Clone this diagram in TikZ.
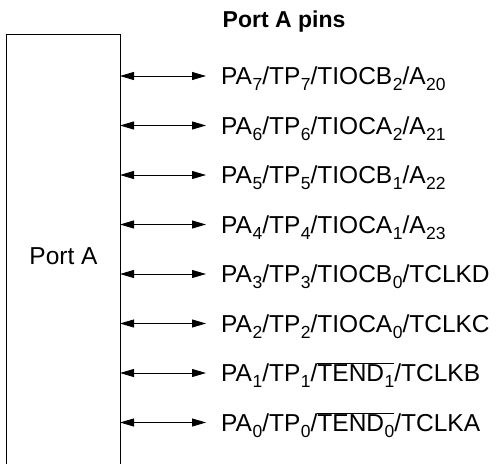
\documentclass[tikz,border=0pt]{standalone}
\usepackage{fontspec}
\setmainfont{Liberation Sans}
\usetikzlibrary{arrows.meta}
\newcommand{\subs}[1]{\kern0.5pt\raisebox{-0.26em}{\fontsize{17.5}{17.5}\selectfont #1}}
\newcommand{\obar}[1]{$\overline{\hbox{#1}}$}
\begin{document}
\begin{tikzpicture}[x=1pt,y=-1pt,font=\fontsize{24.5}{28}\selectfont,
  pinarrow/.style={line width=0.9pt,{Triangle[length=14pt,width=8pt]}-{Triangle[length=14pt,width=8pt]}},
  pintext/.style={anchor=base west,inner sep=0pt},
  boxstyle/.style={draw,line width=1.1pt,inner sep=0pt}]
\useasboundingbox (0,0) rectangle (497,463);
\clip (0,0) rectangle (497,463);
\node[boxstyle,minimum width=114pt,minimum height=460pt,anchor=north west] (porta) at (6,34) {};
\node[inner sep=0pt,anchor=base] (lbl) at (63.5,264) {Port A};
\node[pintext,font=\fontsize{23}{28}\selectfont\bfseries] (title) at (222.5,27) {Port A pins};
\foreach \k/\t in {
  0/{PA\subs{7}/TP\subs{7}/TIOCB\subs{2}/A\subs{20}},
  1/{PA\subs{6}/TP\subs{6}/TIOCA\subs{2}/A\subs{21}},
  2/{PA\subs{5}/TP\subs{5}/TIOCB\subs{1}/A\subs{22}},
  3/{PA\subs{4}/TP\subs{4}/TIOCA\subs{1}/A\subs{23}},
  4/{PA\subs{3}/TP\subs{3}/TIOCB\subs{0}/TCLKD},
  5/{PA\subs{2}/TP\subs{2}/TIOCA\subs{0}/TCLKC},
  6/{PA\subs{1}/TP\subs{1}/\obar{TEND\subs{1}}/TCLKB},
  7/{PA\subs{0}/TP\subs{0}/\obar{TEND\subs{0}}/TCLKA}} {
  \pgfmathsetmacro{\yy}{76+49.5*\k}
  \coordinate (s\k) at (120,\yy);
  \coordinate (e\k) at (206,\yy);
  \node[pintext] (p\k) at (221,\yy+8.5) {\t};
  \draw[pinarrow] (s\k) -- (e\k);
}
\end{tikzpicture}
\end{document}
